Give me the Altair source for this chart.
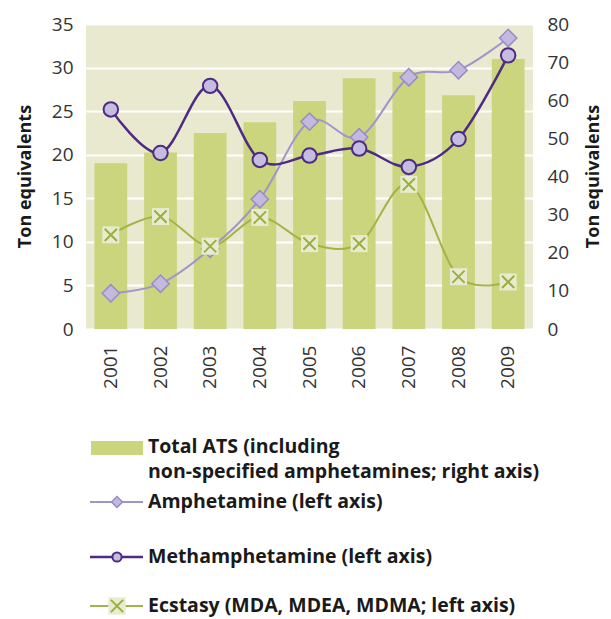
import altair as alt
import pandas as pd

years = ["2001", "2002", "2003", "2004", "2005", "2006", "2007", "2008", "2009"]
total_ats = [43.5, 46.3, 51.4, 54.2, 59.8, 65.8, 67.4, 61.3, 70.8]
amphetamine = [4.1, 5.2, 9.2, 14.9, 23.8, 22.0, 28.9, 29.7, 33.4]
methamphetamine = [25.2, 20.2, 27.9, 19.4, 19.9, 20.7, 18.6, 21.8, 31.4]
ecstasy = [10.8, 12.9, 9.5, 12.8, 9.8, 9.8, 16.6, 6.0, 5.4]

left_ticks = [0, 5, 10, 15, 20, 25, 30, 35]
right_ticks = [0, 10, 20, 30, 40, 50, 60, 70, 80]
axis_title = "Ton equivalents"
legend_labels = [
    "Total ATS (including",
    "non-specified amphetamines; right axis)",
    "Amphetamine (left axis)",
    "Methamphetamine (left axis)",
    "Ecstasy (MDA, MDEA, MDMA; left axis)",
]

df = pd.DataFrame({
    "year": years,
    "total": total_ats,
    "amph": amphetamine,
    "meth": methamphetamine,
    "ecst": ecstasy,
})

FONT = "Open Sans"
BAR = "#cbd57d"
BG = "#e9e9cf"
AMPH_LINE = "#a393cc"
AMPH_FILL = "#c2b9df"
AMPH_STROKE = "#9a8ac7"
METH_LINE = "#4e2a84"
METH_FILL = "#c4bde0"
ECST_LINE = "#a3b446"
ECST_X = "#9aaf3c"
ECST_SQ = "#e8ebd0"

x_axis = alt.Axis(title=None, labelAngle=270, labelPadding=16, ticks=False,
                  domain=False, labelFontSize=19, labelColor="#333333",
                  labelFont=FONT)
x_scale = alt.Scale(paddingInner=0.34, paddingOuter=0.17)
x_bar = alt.X("year:N", sort=years, scale=x_scale, axis=x_axis)
x_pt = alt.X("year:N", sort=years, scale=x_scale, axis=x_axis, bandPosition=0.5)

left_axis = alt.Axis(values=left_ticks, orient="left", grid=True, gridColor="white",
                     gridWidth=2, ticks=False, domain=False, labelPadding=13,
                     labelFontSize=19, labelColor="#333333", labelFont=FONT,
                     title=axis_title, titleFont=FONT, titleFontSize=18,
                     titleFontWeight="bold", titleColor="#1a1a1a", titleAngle=270,
                     titleX=-61, titleY=152, titleAlign="center",
                     titleBaseline="middle")
left_scale = alt.Scale(domain=[0, 35], nice=False, zero=True)

right_axis = alt.Axis(values=right_ticks, orient="right", grid=False, ticks=False,
                      domain=False, labelPadding=14, labelFontSize=19,
                      labelColor="#333333", labelFont=FONT, title=axis_title,
                      titleFont=FONT, titleFontSize=18, titleFontWeight="bold",
                      titleColor="#1a1a1a", titleAngle=270, titleX=60, titleY=152,
                      titleAlign="center", titleBaseline="middle")

base = alt.Chart(df)

bars = base.mark_bar(color=BAR).encode(
    x=x_bar,
    y=alt.Y("total:Q", scale=alt.Scale(domain=[0, 80], nice=False), axis=right_axis),
)


def yl(field):
    return alt.Y(f"{field}:Q", scale=left_scale, axis=left_axis)


amph_line = base.mark_line(color=AMPH_LINE, strokeWidth=2, interpolate="cardinal").encode(x=x_pt, y=yl("amph"))
amph_pts = base.mark_point(shape="diamond", filled=True, fill=AMPH_FILL, stroke=AMPH_STROKE,
                           strokeWidth=1.5, size=300, opacity=1).encode(x=x_pt, y=yl("amph"))
ecst_line = base.mark_line(color=ECST_LINE, strokeWidth=2, interpolate="cardinal").encode(x=x_pt, y=yl("ecst"))
ecst_sq = base.mark_square(color=ECST_SQ, size=289, opacity=1).encode(x=x_pt, y=yl("ecst"))
ecst_x = base.mark_point(shape="M-1,-1L1,1M-1,1L1,-1", filled=False, stroke=ECST_X,
                         strokeWidth=2, size=150, opacity=1).encode(x=x_pt, y=yl("ecst"))
meth_line = base.mark_line(color=METH_LINE, strokeWidth=2.5, interpolate="cardinal").encode(x=x_pt, y=yl("meth"))
meth_pts = base.mark_circle(fill=METH_FILL, stroke=METH_LINE, strokeWidth=2, size=210,
                            opacity=1).encode(x=x_pt, y=yl("meth"))

lines = alt.layer(amph_line, amph_pts, ecst_line, ecst_sq, ecst_x, meth_line, meth_pts)

# ---- custom legend below the plot ----
one = pd.DataFrame({"k": [0]})
lg = alt.Chart(one)
TX = 62
ECY = 582
leg_rect = lg.mark_rect(color=BAR).encode(x=alt.value(5), x2=alt.value(57), y=alt.value(417), y2=alt.value(431))
leg_amph_l = lg.mark_rule(color=AMPH_LINE, strokeWidth=2).encode(x=alt.value(4), x2=alt.value(57), y=alt.value(478))
leg_amph_p = lg.mark_point(shape="diamond", filled=True, fill=AMPH_FILL, stroke=AMPH_STROKE, strokeWidth=1.5,
                           size=120, opacity=1).encode(x=alt.value(31), y=alt.value(478))
leg_meth_l = lg.mark_rule(color=METH_LINE, strokeWidth=2.5).encode(x=alt.value(4), x2=alt.value(57), y=alt.value(533))
leg_meth_p = lg.mark_circle(fill=METH_FILL, stroke=METH_LINE, strokeWidth=2, size=85,
                            opacity=1).encode(x=alt.value(31), y=alt.value(533))
leg_ecst_l = lg.mark_rule(color=ECST_LINE, strokeWidth=2).encode(x=alt.value(4), x2=alt.value(57), y=alt.value(ECY))
leg_ecst_s = lg.mark_square(color=ECST_SQ, size=300, opacity=1).encode(x=alt.value(31), y=alt.value(ECY))
leg_ecst_x = lg.mark_point(shape="M-1,-1L1,1M-1,1L1,-1", filled=False, stroke=ECST_X, strokeWidth=2,
                           size=150, opacity=1).encode(x=alt.value(31), y=alt.value(ECY))

text_ys = [423, 448, 478, 533, ECY]
leg_texts = [
    lg.mark_text(align="left", baseline="middle", font=FONT, fontSize=19.5, fontWeight="bold",
                 color="#1a1a1a", text=lab).encode(x=alt.value(TX), y=alt.value(yy))
    for lab, yy in zip(legend_labels, text_ys)
]

legend = alt.layer(leg_rect, leg_amph_l, leg_amph_p, leg_meth_l, leg_meth_p,
                   leg_ecst_l, leg_ecst_s, leg_ecst_x, *leg_texts)

chart = alt.layer(bars, lines, legend).resolve_scale(y="independent").properties(
    width=447,
    height=305,
    autosize=alt.AutoSizeParams(type="none"),
    padding={"left": 78, "top": 16, "right": 70, "bottom": 290},
).configure_view(fill=BG, stroke=None)

chart.save("out.html", embed_options={"renderer": "svg", "actions": False})
